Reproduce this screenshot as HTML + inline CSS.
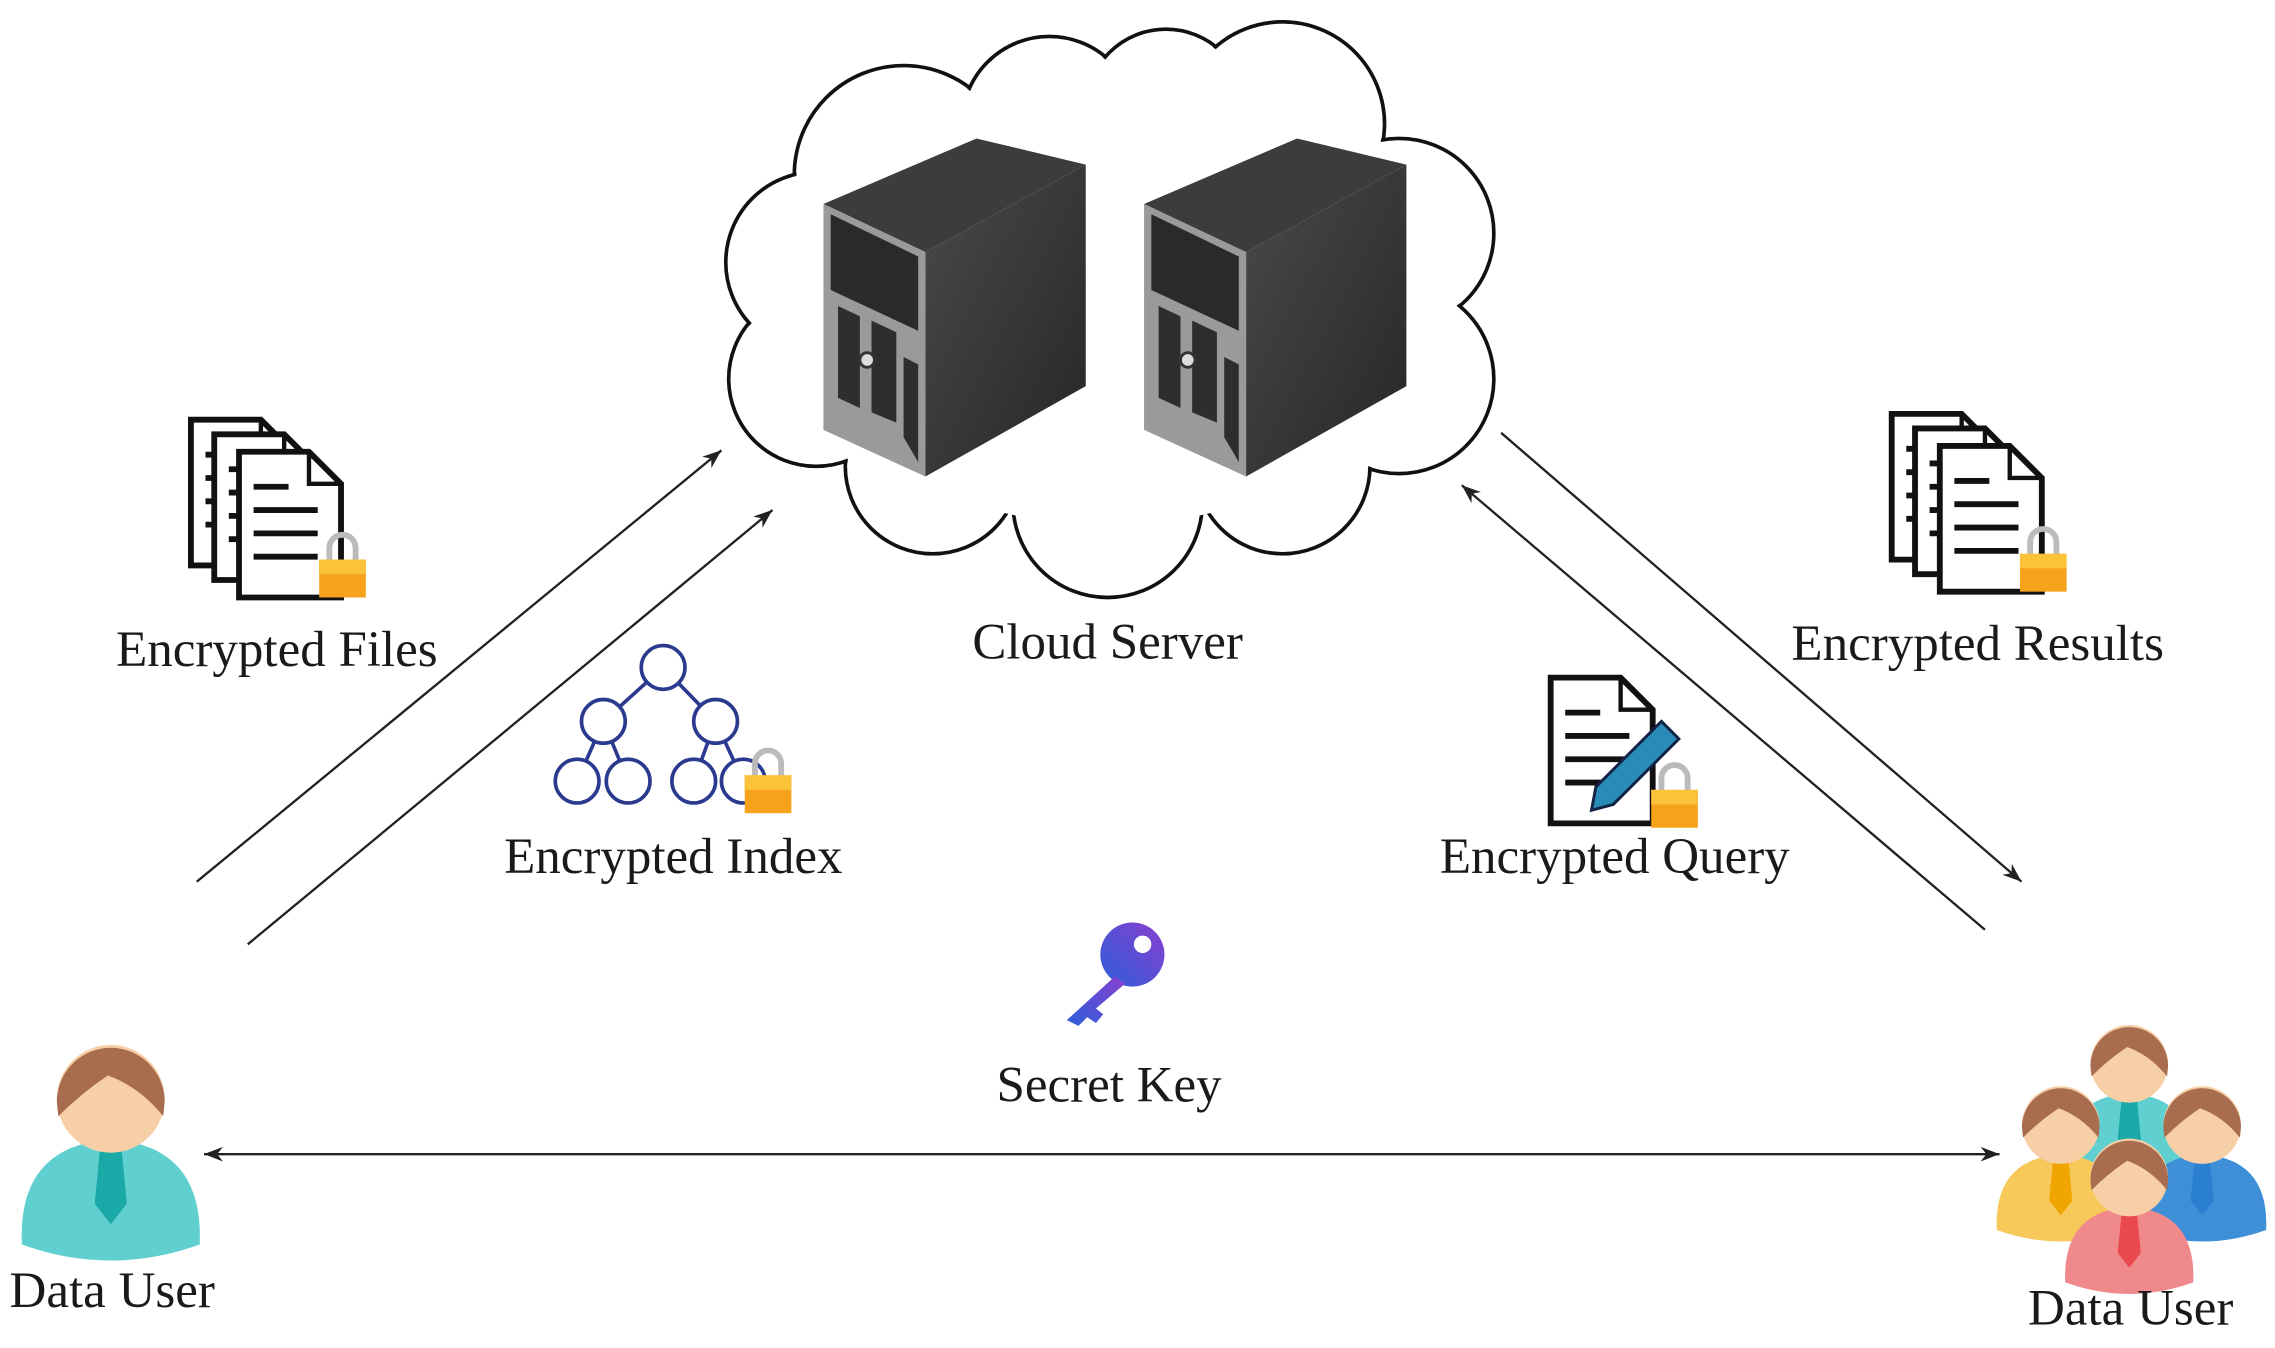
<!DOCTYPE html>
<html><head><meta charset="utf-8"><style>
html,body{margin:0;padding:0;background:#fff;}
svg{display:block;}
text{font-family:"Liberation Serif",serif;fill:#1a1a1a;}
</style></head><body>
<svg width="2275" height="1348" viewBox="0 0 1561 925" preserveAspectRatio="none" xmlns="http://www.w3.org/2000/svg">
<defs>
<marker id="ah" markerWidth="14" markerHeight="10" refX="13" refY="5" orient="auto" markerUnits="userSpaceOnUse">
<path d="M0,0 L13,5 L0,10 L4,5 Z" fill="#222"/>
</marker>
<marker id="ahs" markerWidth="14" markerHeight="10" refX="1" refY="5" orient="auto" markerUnits="userSpaceOnUse">
<path d="M14,0 L1,5 L14,10 L10,5 Z" fill="#222"/>
</marker>
<linearGradient id="side" x1="0" y1="0" x2="1" y2="1"><stop offset="0" stop-color="#4a4a4a"/><stop offset="1" stop-color="#262626"/></linearGradient>
<linearGradient id="key" x1="0" y1="1" x2="1" y2="0"><stop offset="0" stop-color="#2b5fd9"/><stop offset="1" stop-color="#8a3fd0"/></linearGradient>
<g id="user">
<path d="M-61,100 Q-64,32 0,28 Q64,32 61,100 Q0,122 -61,100 Z" fill="var(--c)"/>
<path d="M-7,30 L7,30 L11,72 L0,86 L-11,72 Z" fill="var(--t)"/>
<circle cx="0" cy="0" r="37" fill="#f7cfa6"/>
<path d="M-37,2 A37,37 0 0 1 37,2 L36,12 Q20,-8 -2,-16 Q-20,-4 -36,12 Z" fill="#a86c4e"/>
</g>
<g id="doc">
<path d="M0,0 L48,0 L70,22 L70,100 L0,100 Z" fill="#fff" stroke="#111" stroke-width="4"/>
<path d="M48,0 L48,22 L70,22" fill="none" stroke="#111" stroke-width="3"/>
<path d="M10,24 L34,24 M10,40 L54,40 M10,56 L54,56 M10,72 L54,72" stroke="#111" stroke-width="4"/>
</g>
<g id="lock">
<path d="M7,12 L7,4 A9,9 0 0 1 25,4 L25,12" fill="none" stroke="#bbb" stroke-width="4"/>
<rect x="0" y="12" width="32" height="26" fill="#f7a21b"/>
<rect x="0" y="12" width="32" height="10" fill="#fbc23a"/>
</g>
<g id="server">
<path d="M0,45 L105,0 L180,18 L70,78 Z" fill="#3c3c3c"/>
<path d="M70,78 L180,18 L180,170 L70,232 Z" fill="url(#side)"/>
<path d="M0,45 L70,78 L70,232 L0,200 Z" fill="#9a9a9c"/>
<path d="M5,52 L65,81 L65,132 L5,104 Z" fill="#2a2a2a"/>
<path d="M10,115 L25,122 L25,185 L10,178 Z M33,125 L50,133 L50,195 L33,188 Z M55,150 L65,155 L65,222 L55,205 Z" fill="#2e2e2e"/>
<circle cx="30" cy="152" r="5" fill="#ddd" stroke="#333" stroke-width="2"/>
</g>
</defs>

<!-- cloud -->
<g stroke="#111" stroke-width="2.5" fill="#fff">
<circle cx="620" cy="120" r="75"/><circle cx="720" cy="85" r="60"/><circle cx="800" cy="75" r="55"/><circle cx="880" cy="85" r="70"/>
<circle cx="960" cy="160" r="65"/><circle cx="960" cy="260" r="65"/><circle cx="880" cy="320" r="60"/>
<circle cx="760" cy="345" r="65"/><circle cx="640" cy="320" r="60"/><circle cx="560" cy="260" r="60"/><circle cx="560" cy="180" r="62"/>
</g>
<g fill="#fff">
<circle cx="620" cy="120" r="73.5"/><circle cx="720" cy="85" r="58.5"/><circle cx="800" cy="75" r="53.5"/><circle cx="880" cy="85" r="68.5"/>
<circle cx="960" cy="160" r="63.5"/><circle cx="960" cy="260" r="63.5"/><circle cx="880" cy="320" r="58.5"/>
<circle cx="760" cy="345" r="63.5"/><circle cx="640" cy="320" r="58.5"/><circle cx="560" cy="260" r="58.5"/><circle cx="560" cy="180" r="60.5"/>
<ellipse cx="760" cy="210" rx="220" ry="150"/>
</g>
<use href="#server" x="565" y="95"/>
<use href="#server" x="785" y="95"/>
<text x="760" y="452" font-size="35" text-anchor="middle">Cloud Server</text>

<!-- arrows -->
<g stroke="#222" stroke-width="1.6" fill="none">
<line x1="135" y1="605" x2="495" y2="309" marker-end="url(#ah)"/>
<line x1="170" y1="648" x2="530" y2="350" marker-end="url(#ah)"/>
<line x1="1030" y1="297" x2="1387" y2="605" marker-end="url(#ah)"/>
<line x1="1362" y1="638" x2="1003" y2="333" marker-end="url(#ah)"/>
<line x1="140" y1="792" x2="1372" y2="792" marker-end="url(#ah)" marker-start="url(#ahs)"/>
</g>

<!-- encrypted files -->
<use href="#doc" x="131" y="288"/><use href="#doc" x="147" y="298"/><use href="#doc" x="164" y="310"/>
<use href="#lock" x="219" y="372"/>
<text x="190" y="457" font-size="35" text-anchor="middle">Encrypted Files</text>

<!-- encrypted results -->
<use href="#doc" x="1298" y="284"/><use href="#doc" x="1314" y="294"/><use href="#doc" x="1331" y="306"/>
<use href="#lock" x="1386" y="368"/>
<text x="1357" y="453" font-size="35" text-anchor="middle">Encrypted Results</text>

<!-- index tree -->
<g stroke="#2b3a8f" stroke-width="2.5" fill="#fff">
<line x1="455" y1="458" x2="414" y2="495"/><line x1="455" y1="458" x2="491" y2="495"/>
<line x1="414" y1="495" x2="396" y2="536"/><line x1="414" y1="495" x2="431" y2="536"/>
<line x1="491" y1="495" x2="476" y2="536"/><line x1="491" y1="495" x2="510" y2="536"/>
<circle cx="455" cy="458" r="15"/><circle cx="414" cy="495" r="15"/><circle cx="491" cy="495" r="15"/>
<circle cx="396" cy="536" r="15"/><circle cx="431" cy="536" r="15"/><circle cx="476" cy="536" r="15"/><circle cx="510" cy="536" r="15"/>
</g>
<use href="#lock" x="511" y="520"/>
<text x="462" y="599" font-size="35" text-anchor="middle">Encrypted Index</text>

<!-- query -->
<use href="#doc" x="1064" y="465"/>
<path d="M1095,540 L1140,495 L1152,507 L1107,552 L1092,556 Z" fill="#2a8bb8" stroke="#124" stroke-width="2"/>
<use href="#lock" x="1133" y="530"/>
<text x="1108" y="599" font-size="35" text-anchor="middle">Encrypted Query</text>

<!-- key -->
<g>
<circle cx="777" cy="655" r="22" fill="url(#key)"/>
<circle cx="784" cy="648" r="6" fill="#fff"/>
<path d="M765,670 L732,700 L740,704 L746,698 L752,702 L757,696 L752,692 L772,675 Z" fill="url(#key)"/>
</g>
<text x="761" y="756" font-size="35" text-anchor="middle">Secret Key</text>

<!-- users -->
<use href="#user" x="76" y="754" style="--c:#5fcfcf;--t:#1aa9a6"/>
<text x="77" y="897" font-size="35" text-anchor="middle">Data User</text>

<g transform="translate(1461,730) scale(0.72)"><use href="#user" style="--c:#5fcfcf;--t:#1aa9a6"/></g>
<g transform="translate(1414,772) scale(0.72)"><use href="#user" style="--c:#f7c95a;--t:#f0a500"/></g>
<g transform="translate(1511,772) scale(0.72)"><use href="#user" style="--c:#3f8fd8;--t:#2a7fd0"/></g>
<g transform="translate(1461,808) scale(0.72)"><use href="#user" style="--c:#f0898c;--t:#e84a50"/></g>
<text x="1462" y="909" font-size="35" text-anchor="middle">Data User</text>
</svg>
</body></html>
